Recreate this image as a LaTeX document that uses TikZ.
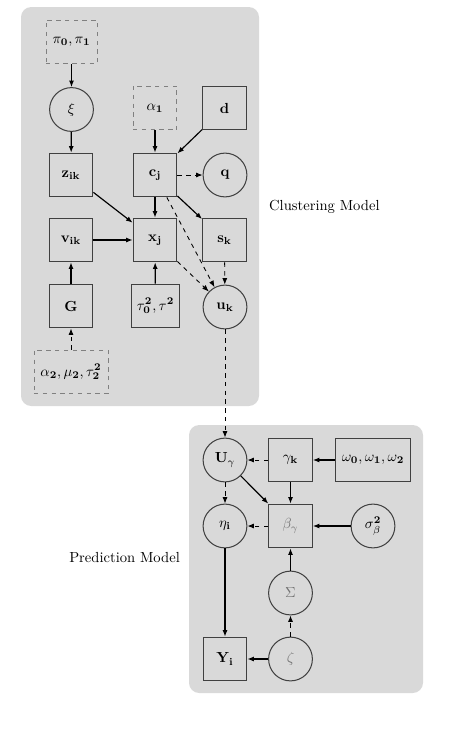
\documentclass[tikz,border=0pt]{standalone}
\usetikzlibrary{arrows.meta}
\begin{document}
\begin{tikzpicture}[x=0.685pt,y=-0.685pt,
  bg/.style={fill=black!15,draw=none,rounded corners=7pt},
  sq/.style={rectangle,draw=black!75,line width=0.7pt,minimum size=30pt,inner sep=2pt},
  dsq/.style={rectangle,draw=black!50,line width=0.6pt,dashed,minimum size=30pt,inner sep=2pt},
  circ/.style={circle,draw=black!75,line width=0.7pt,minimum size=30pt,inner sep=1pt},
  arr/.style={-{Latex[length=4.5pt,width=3.5pt]},line width=0.8pt,black},
  darr/.style={-{Latex[length=4.5pt,width=3.5pt]},line width=0.6pt,black,dashed},
  lite/.style={text=black!55}]
\useasboundingbox (0,0) rectangle (467,737);
\fill[bg] (21,7) rectangle (259,406);
\fill[bg] (189,425) rectangle (423,693);
% clustering model
\node[dsq,minimum width=35pt] (pi) at (71.5,42) {$\pi_{\mathbf{0}},\pi_{\mathbf{1}}$};
\node[circ] (xi) at (71.5,109.5) {$\xi$};
\node[sq] (z) at (71,175) {$\mathbf{z_{ik}}$};
\node[dsq] (a1) at (155,108) {$\alpha_{\mathbf{1}}$};
\node[sq] (d) at (224.5,108) {$\mathbf{d}$};
\node[sq] (c) at (155,175) {$\mathbf{c_j}$};
\node[circ] (q) at (225,175) {$\mathbf{q}$};
\node[sq] (v) at (71,240) {$\mathbf{v_{ik}}$};
\node[sq] (x) at (155,240) {$\mathbf{x_j}$};
\node[sq] (s) at (224.5,240) {$\mathbf{s_k}$};
\node[sq] (G) at (71,306) {$\mathbf{G}$};
\node[sq,minimum width=33.5pt,inner sep=1pt] (tau) at (155.5,306) {$\tau_{\mathbf{0}}^{\mathbf{2}},\tau^{\mathbf{2}}$};
\node[circ] (u) at (225,307) {$\mathbf{u_k}$};
\node[dsq,minimum width=50.7pt] (a2) at (71,372) {$\alpha_{\mathbf{2}},\mu_{\mathbf{2}},\tau_{\mathbf{2}}^{\mathbf{2}}$};
\node[anchor=west] (cl) at (264,207) {Clustering Model};
% prediction model
\node[circ] (U) at (225,460) {$\mathbf{U}_\gamma$};
\node[sq] (gk) at (290.5,460) {$\gamma_{\mathbf{k}}$};
\node[sq,minimum width=52pt] (om) at (373,460) {$\omega_{\mathbf{0}},\omega_{\mathbf{1}},\omega_{\mathbf{2}}$};
\node[circ] (eta) at (225,526) {$\eta_{\mathbf{i}}$};
\node[sq,lite] (beta) at (290.5,526) {$\beta_\gamma$};
\node[circ] (sig) at (373,526) {$\sigma_\beta^{\mathbf{2}}$};
\node[circ,lite] (Sig) at (290.5,593) {$\Sigma$};
\node[sq] (Y) at (225,659) {$\mathbf{Y_i}$};
\node[circ,lite] (zeta) at (290.5,659) {$\zeta$};
\node[anchor=east] (pr) at (185,558) {Prediction Model};
% edges clustering
\draw[arr] (pi) -- (xi);
\draw[arr] (xi) -- (z);
\draw[arr] (a1) -- (c);
\draw[arr] (d) -- (c);
\draw[darr] (c) -- (q);
\draw[arr] (c) -- (x);
\draw[arr] (c) -- (s);
\draw[darr] (c) -- (u);
\draw[darr] (x) -- (u);
\draw[darr] (s) -- (u);
\draw[arr] (z) -- (x);
\draw[arr] (v) -- (x);
\draw[arr] (G) -- (v);
\draw[arr] (tau) -- (x);
\draw[darr] (a2) -- (G);
\draw[darr] (u) -- (U);
% edges prediction
\draw[darr] (gk) -- (U);
\draw[arr] (om) -- (gk);
\draw[arr] (U) -- (beta);
\draw[arr] (gk) -- (beta);
\draw[darr] (U) -- (eta);
\draw[darr] (beta) -- (eta);
\draw[arr] (sig) -- (beta);
\draw[arr] (Sig) -- (beta);
\draw[darr] (zeta) -- (Sig);
\draw[arr] (eta) -- (Y);
\draw[arr] (zeta) -- (Y);
\end{tikzpicture}
\end{document}
